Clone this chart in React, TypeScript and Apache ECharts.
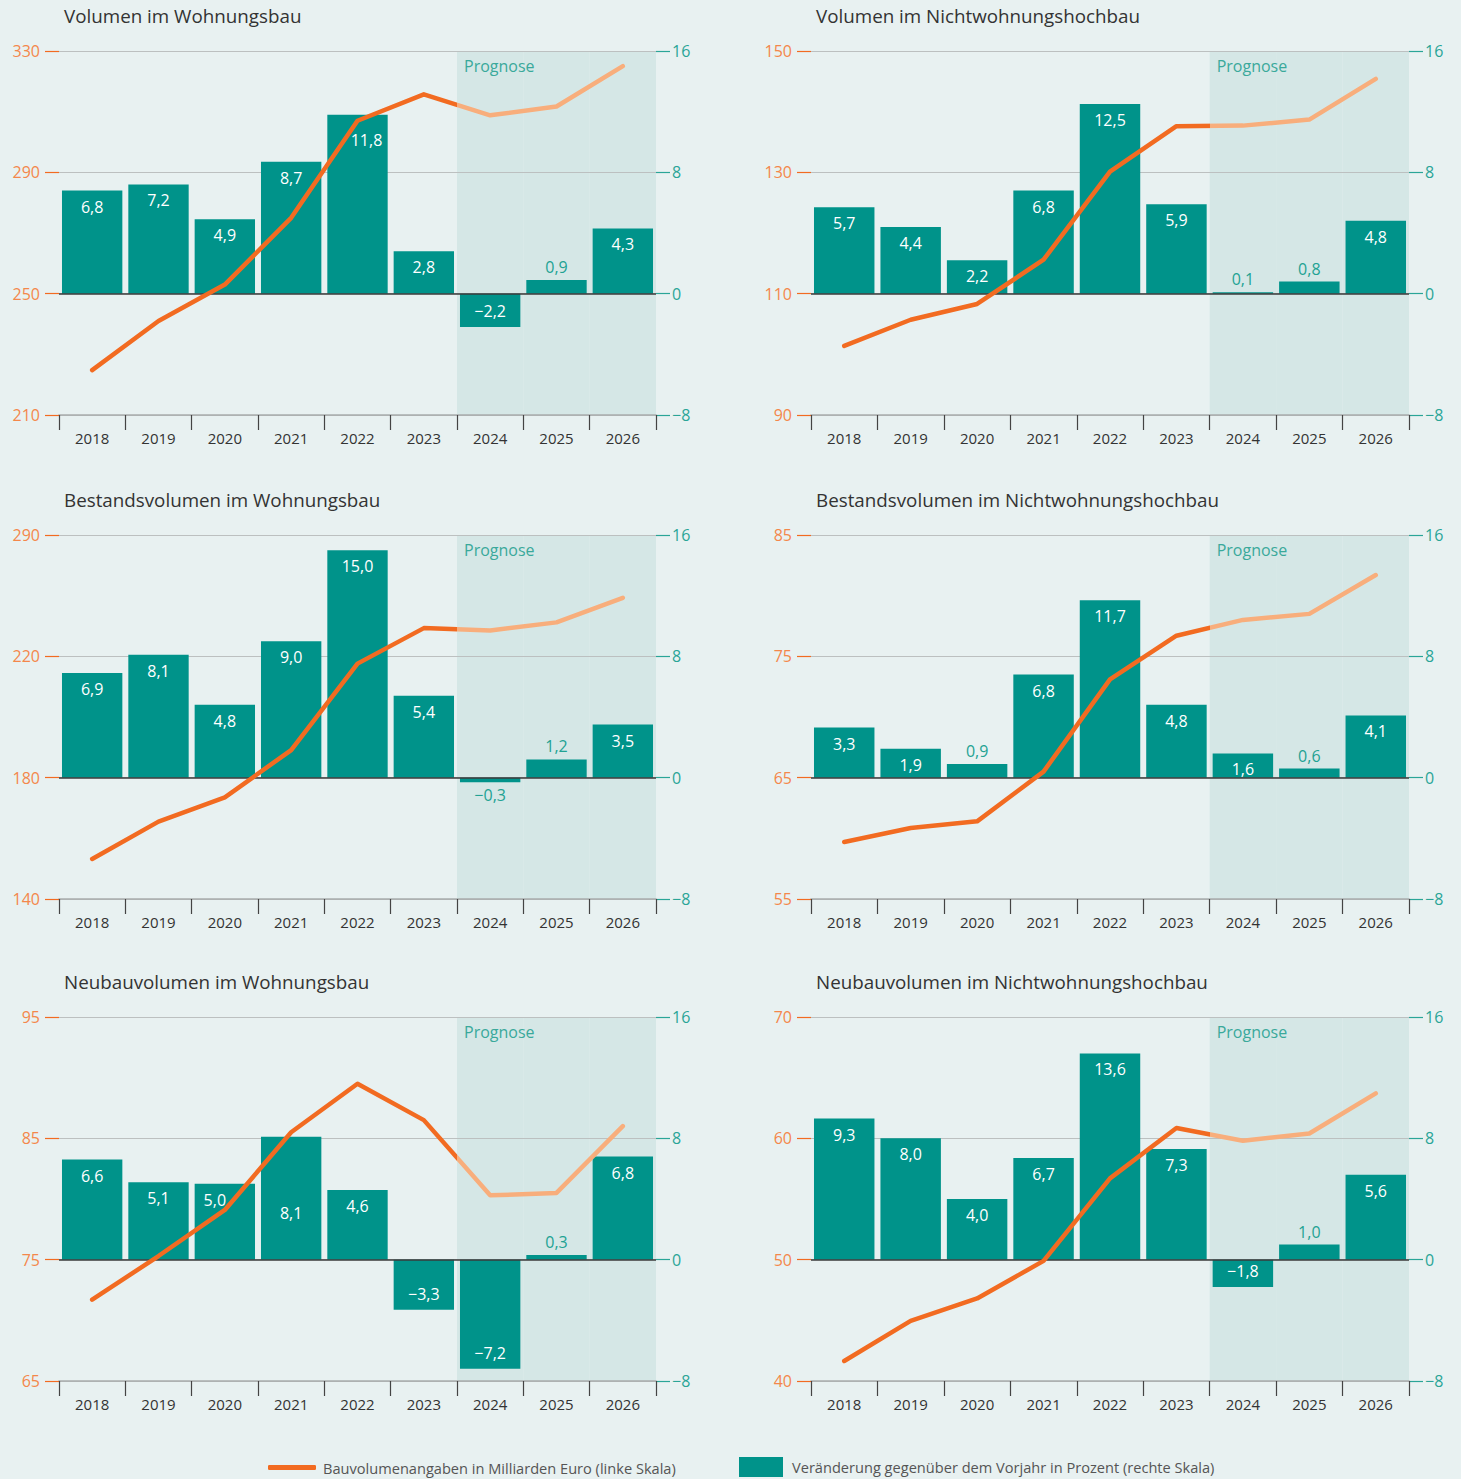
import React, { useEffect, useRef } from "react";
import * as echarts from "echarts";

// ---------- data ----------
const years = ["2018", "2019", "2020", "2021", "2022", "2023", "2024", "2025", "2026"];

const titles = [
  "Volumen im Wohnungsbau",
  "Volumen im Nichtwohnungshochbau",
  "Bestandsvolumen im Wohnungsbau",
  "Bestandsvolumen im Nichtwohnungshochbau",
  "Neubauvolumen im Wohnungsbau",
  "Neubauvolumen im Nichtwohnungshochbau",
];

// Bauvolumen in Mrd. Euro (left scale)
const volWohnungsbau = [224.8, 241.0, 253.0, 275.0, 307.0, 315.7, 308.8, 311.7, 325.0];
const volNichtwohn = [101.4, 105.7, 108.3, 115.6, 130.1, 137.6, 137.7, 138.7, 145.4];
const bestandWohnungsbau = [153.2, 165.5, 173.5, 189.1, 217.6, 229.3, 228.5, 231.2, 239.3];
const bestandNichtwohn = [59.7, 60.85, 61.4, 65.5, 73.1, 76.7, 78.0, 78.5, 81.7];
const neubauWohnungsbau = [71.7, 75.3, 79.1, 85.5, 89.5, 86.5, 80.3, 80.5, 86.0];
const neubauNichtwohn = [41.65, 44.95, 46.8, 49.9, 56.7, 60.85, 59.8, 60.4, 63.7];

// Veränderung gegenüber Vorjahr in % (right scale)
const chgVolWohnungsbau = [6.8, 7.2, 4.9, 8.7, 11.8, 2.8, -2.2, 0.9, 4.3];
const chgVolNichtwohn = [5.7, 4.4, 2.2, 6.8, 12.5, 5.9, 0.1, 0.8, 4.8];
const chgBestandWohnungsbau = [6.9, 8.1, 4.8, 9.0, 15.0, 5.4, -0.3, 1.2, 3.5];
const chgBestandNichtwohn = [3.3, 1.9, 0.9, 6.8, 11.7, 4.8, 1.6, 0.6, 4.1];
const chgNeubauWohnungsbau = [6.6, 5.1, 5.0, 8.1, 4.6, -3.3, -7.2, 0.3, 6.8];
const chgNeubauNichtwohn = [9.3, 8.0, 4.0, 6.7, 13.6, 7.3, -1.8, 1.0, 5.6];

// left axis ranges and tick labels (as printed)
const leftMin = [210, 90, 140, 55, 65, 40];
const leftMax = [330, 150, 260, 85, 95, 70];
const leftInterval = [40, 20, 40, 10, 10, 10];
const leftTickLabels = [
  ["210", "250", "290", "330"],
  ["90", "110", "130", "150"],
  ["140", "180", "220", "290"],
  ["55", "65", "75", "85"],
  ["65", "75", "85", "95"],
  ["40", "50", "60", "70"],
];
const rightMin = -8;
const rightMax = 16;
const rightInterval = 8;
const rightTickLabels = ["\u22128", "0", "8", "16"];

const forecastStartIndex = 6; // 2024
const prognoseLabel = "Prognose";
const lineName = "Bauvolumenangaben in Milliarden Euro (linke Skala)";
const barName = "Veränderung gegenüber dem Vorjahr in Prozent (rechte Skala)";

const volumes = [volWohnungsbau, volNichtwohn, bestandWohnungsbau, bestandNichtwohn, neubauWohnungsbau, neubauNichtwohn];
const changes = [chgVolWohnungsbau, chgVolNichtwohn, chgBestandWohnungsbau, chgBestandNichtwohn, chgNeubauWohnungsbau, chgNeubauNichtwohn];

// label nudges (panel, category index, dx, dy) where the original moves a label off the line
const labelNudges = [
  { panel: 0, index: 4, dx: 9, dy: 9 },
  { panel: 4, index: 2, dx: -10, dy: 0 },
  { panel: 4, index: 3, dx: 0, dy: 60 },
];

// ---------- styles ----------
const FONT = "'Open Sans', 'Noto Sans', sans-serif";
const BG = "#e8f1f1";
const SHADE = "#d5e7e6";
const TEAL = "#00938a";
const TEAL_TEXT = "#22a293";
const ORANGE = "#f26b21";
const ORANGE_LIGHT = "#f8ae7c";
const ORANGE_TEXT = "#f4874b";

const colLeft = [59, 811];
const colWidth = [597, 598];
const rowTop = [51, 535, 1017];
const gridHeight = 364;

function fmt(v: number) {
  return v.toFixed(1).replace(".", ",").replace("-", "\u2212");
}

export default function App() {
  const ref = useRef<HTMLDivElement>(null);

  useEffect(() => {
    if (!ref.current) return;
    const chart = echarts.init(ref.current, undefined, { renderer: "svg" });

    const grid: any[] = [];
    const xAxis: any[] = [];
    const yAxis: any[] = [];
    const series: any[] = [];
    const title: any[] = [];

    const split = (forecastStartIndex - 0.5) / (years.length - 1);

    for (let i = 0; i < 6; i++) {
      const col = i % 2;
      const row = Math.floor(i / 2);
      const left = colLeft[col];
      const width = colWidth[col];
      const top = rowTop[row];
      grid.push({ left, top, width, height: gridHeight, containLabel: false });

      title.push({
        text: titles[i],
        left: left + 5,
        top: top - 45,
        padding: 0,
        textStyle: { fontFamily: FONT, fontSize: 18.8, fontWeight: "normal", color: "#333" },
      });

      // main category axis
      xAxis.push({
        type: "category",
        gridIndex: i,
        data: years,
        position: "bottom",
        axisLine: { show: true, onZero: false, lineStyle: { color: "#a9adad", width: 1.5 } },
        axisTick: { show: true, length: 15, lineStyle: { color: "#444", width: 1.2 } },
        axisLabel: { color: "#333", fontSize: 15, fontFamily: FONT, margin: 15 },
        splitLine: { show: false },
        z: 1,
      });
      // hidden axis for forecast shading
      xAxis.push({
        type: "category",
        gridIndex: i,
        data: years,
        show: false,
      });

      const lt = leftTickLabels[i];
      const lmin = leftMin[i];
      const lint = leftInterval[i];
      yAxis.push({
        type: "value",
        gridIndex: i,
        position: "left",
        min: lmin,
        max: leftMax[i],
        interval: lint,
        axisLine: { show: false },
        axisTick: { show: true, length: 14, lineStyle: { color: ORANGE, width: 1.2 } },
        axisLabel: {
          color: ORANGE_TEXT,
          fontSize: 16,
          fontFamily: FONT,
          margin: 19,
          formatter: (v: number) => lt[Math.round((v - lmin) / lint)] ?? String(v),
        },
        splitLine: { show: true, lineStyle: { color: "#bcc0c0", width: 1 } },
        z: 1,
      });
      yAxis.push({
        type: "value",
        gridIndex: i,
        position: "right",
        min: rightMin,
        max: rightMax,
        interval: rightInterval,
        axisLine: { show: false },
        axisTick: { show: true, length: 14, lineStyle: { color: "#2aa597", width: 1.2 } },
        axisLabel: {
          color: "#2aa597",
          fontSize: 16,
          fontFamily: FONT,
          margin: 16,
          formatter: (v: number) => rightTickLabels[Math.round((v - rightMin) / rightInterval)] ?? String(v),
        },
        splitLine: { show: false },
      });
      yAxis.push({
        type: "value",
        gridIndex: i,
        min: 0,
        max: 1,
        show: false,
      });

      // forecast shading
      const shadeData = years.map((_, k) =>
        k >= forecastStartIndex
          ? k === forecastStartIndex
            ? {
                value: 1,
                label: {
                  show: true,
                  position: "insideTopLeft",
                  distance: 7,
                  offset: [0, 0],
                  formatter: prognoseLabel,
                  color: "#3aa99b",
                  fontSize: 16,
                  fontFamily: FONT,
                },
              }
            : 1
          : null
      );
      series.push({
        type: "bar",
        xAxisIndex: 2 * i + 1,
        yAxisIndex: 3 * i + 2,
        data: shadeData,
        barCategoryGap: "0%",
        itemStyle: { color: SHADE },
        silent: true,
        z: -1,
        tooltip: { show: false },
      });

      const barData = changes[i].map((v, k) => {
        const inside = Math.abs(v) >= 1.5;
        const nudge = labelNudges.find((n) => n.panel === i && n.index === k);
        return {
          value: v,
          label: {
            show: true,
            position: inside ? (v >= 0 ? "insideTop" : "insideBottom") : v >= 0 ? "top" : "bottom",
            distance: inside ? 8 : 5,
            offset: nudge ? [nudge.dx, nudge.dy] : [0, 0],
            color: inside ? "#ffffff" : TEAL_TEXT,
            fontSize: 16,
            fontFamily: FONT,
            formatter: () => fmt(v),
          },
        };
      });

      series.push({
        name: barName,
        type: "bar",
        xAxisIndex: 2 * i,
        yAxisIndex: 3 * i + 1,
        data: barData,
        barCategoryGap: "9%",
        itemStyle: { color: TEAL },
        z: 2,
        markLine: {
          silent: true,
          symbol: ["none", "none"],
          label: { show: false },
          lineStyle: { color: "#3a3a3a", width: 1.5, type: "solid" },
          data: [{ yAxis: 0 }],
          z: 3,
        },
      });
      series.push({
        name: lineName,
        type: "line",
        xAxisIndex: 2 * i,
        yAxisIndex: 3 * i,
        data: volumes[i],
        symbol: "none",
        showSymbol: false,
        itemStyle: { color: ORANGE },
        lineStyle: {
          width: 4.5,
          cap: "round",
          join: "round",
          color: {
            type: "linear",
            x: 0,
            y: 0,
            x2: 1,
            y2: 0,
            colorStops: [
              { offset: 0, color: ORANGE },
              { offset: split, color: ORANGE },
              { offset: split, color: ORANGE_LIGHT },
              { offset: 1, color: ORANGE_LIGHT },
            ],
          },
        },
        z: 4,
      });
    }

    const legendText = { color: "#555", fontSize: 14.6, fontFamily: FONT };
    chart.setOption({
      animation: false,
      backgroundColor: BG,
      title,
      grid,
      xAxis,
      yAxis,
      series,
      legend: [
        {
          data: [{ name: lineName, icon: "roundRect", itemStyle: { color: ORANGE } }],
          left: 268,
          top: 1460,
          itemWidth: 48,
          itemHeight: 5,
          padding: 0,
          selectedMode: false,
          textStyle: { ...legendText, padding: [0, 0, 0, 2] },
        },
        {
          data: [{ name: barName, icon: "rect", itemStyle: { color: TEAL } }],
          left: 739,
          top: 1457,
          itemWidth: 44,
          itemHeight: 20,
          padding: 0,
          selectedMode: false,
          textStyle: { ...legendText, padding: [0, 0, 0, 4] },
        },
      ],
    });

    return () => chart.dispose();
  }, []);

  return (
    <div
      ref={ref}
      style={{ position: "absolute", left: 0, top: 0, width: 1461, height: 1479, background: BG }}
    />
  );
}
